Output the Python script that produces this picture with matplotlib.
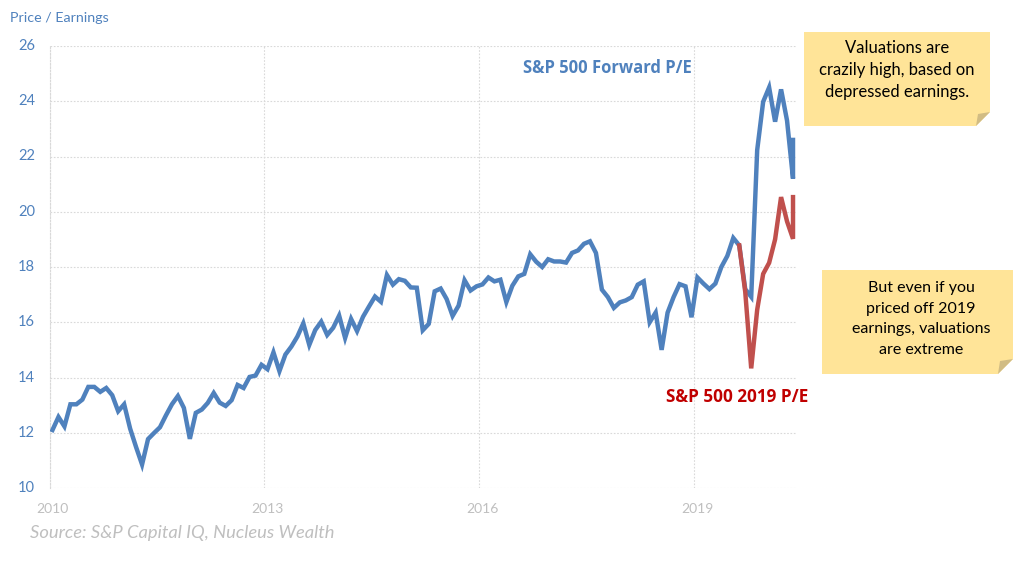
import numpy as np
from matplotlib import pyplot as plt
from matplotlib.patches import Polygon

plt.rcParams['font.family'] = ['Lato', 'DejaVu Sans']

# monthly from Jan 2010, last month has two readings
months = list(range(125)) + [124]

forward_pe = [12.1, 12.57, 12.23, 13.03, 13.03, 13.2, 13.66, 13.66, 13.48, 13.62, 13.36, 12.78,
              13.03, 12.15, 11.48, 10.85, 11.77, 11.99, 12.2, 12.63, 13.03, 13.33, 12.9, 11.78,
              12.72, 12.84, 13.08, 13.44, 13.09, 12.97, 13.18, 13.73, 13.62, 14.02, 14.07, 14.46,
              14.3, 14.91, 14.23, 14.83, 15.12, 15.48, 15.96, 15.18, 15.72, 16.02, 15.54, 15.8,
              16.24, 15.43, 16.12, 15.68, 16.2, 16.57, 16.93, 16.74, 17.71, 17.36, 17.56, 17.5,
              17.26, 17.25, 15.71, 15.94, 17.12, 17.22, 16.84, 16.23, 16.6, 17.52, 17.15, 17.3,
              17.37, 17.62, 17.48, 17.54, 16.73, 17.32, 17.66, 17.75, 18.46, 18.19, 18.0, 18.28,
              18.2, 18.2, 18.16, 18.51, 18.6, 18.84, 18.93, 18.51, 17.18, 16.91, 16.52, 16.72,
              16.79, 16.91, 17.36, 17.48, 16.0, 16.35, 15.0, 16.35, 16.91, 17.38, 17.3, 16.18,
              17.62, 17.4, 17.2, 17.4, 18.0, 18.4, 19.05, 18.78, 17.2, 16.92, 22.23, 23.98,
              24.5, 23.26, 24.43, 23.3, 21.2, 22.6]

months_2019 = list(range(115, 125)) + [124]
pe_2019 = [18.78, 17.1, 14.33, 16.45, 17.75, 18.15, 19.0, 20.53, 19.65, 19.02, 20.53]

year_labels = ['2010', '2013', '2016', '2019']
year_months = [0, 36, 72, 108]
y_ticks = [10, 12, 14, 16, 18, 20, 22, 24, 26]

blue = '#4F81BD'
red = '#C0504D'
dark_red = '#C00000'
grey = '#BFBFBF'
note_col = '#FFE498'
fold_col = '#D1BC84'

W, H = 1015, 561


def px(x, y):
    # figure fraction from pixel position, y measured from the top
    return x / W, 1 - y / H


def add_note(fig, x0, y0, x1, y1, fold):
    corner = [(x0, y0), (x1, y0), (x1, y1 - fold), (x1 - fold, y1), (x0, y1)]
    flap = [(x1 - fold, y1), (x1, y1 - fold), (x1 - fold + 2, y1 - fold + 2)]
    fig.add_artist(Polygon([px(*p) for p in corner], closed=True, transform=fig.transFigure,
                           facecolor=note_col, edgecolor='none'))
    fig.add_artist(Polygon([px(*p) for p in flap], closed=True, transform=fig.transFigure,
                           facecolor=fold_col, edgecolor='none'))


fig = plt.figure(figsize=(W / 100, H / 100), dpi=100)
ax = fig.add_axes([49.5 / W, 1 - 488 / H, (796 - 49.5) / W, (488 - 46) / H])

ax.plot(months, forward_pe, color=blue, lw=3.2, solid_joinstyle='miter', zorder=3)
ax.plot(months_2019, pe_2019, color=red, lw=3.2, solid_joinstyle='miter', zorder=4)

ax.set_xlim(-0.5, 124.5)
ax.set_ylim(10, 26)

# gridlines sit on the category edges, labels on the first month
ax.set_xticks([m - 0.5 for m in year_months])
ax.set_xticklabels([])
ax.set_xticks(year_months, minor=True)
ax.set_xticklabels(year_labels, minor=True, color=grey, fontsize=10)
ax.set_yticks(y_ticks)
ax.set_yticklabels(y_ticks, color=blue, fontsize=10.5, va='center')
ax.tick_params(which='both', length=0)
ax.tick_params(axis='x', which='minor', pad=11)
ax.tick_params(axis='y', pad=10.5)

ax.grid(True, color='#D9D9D9', lw=0.8, ls=(0, (1.5, 1.5)), zorder=0)
for s in ax.spines.values():
    s.set_visible(False)
ax.spines['left'].set_visible(True)
ax.spines['left'].set_color('#D9D9D9')
ax.spines['left'].set_linewidth(0.8)
ax.spines['left'].set_linestyle((0, (1.5, 1.5)))

fig.text(*px(10, 18.5), 'Price / Earnings', color=blue, fontsize=10.3, va='center')
fig.text(*px(30, 533), 'Source: S&P Capital IQ, Nucleus Wealth', color=grey, fontsize=13.2,
         style='italic', va='center')
fig.text(*px(523, 68), 'S&P 500 Forward P/E', color=blue, fontsize=12, fontweight='bold',
         family=['Open Sans', 'DejaVu Sans'], va='center')
fig.text(*px(666, 397), 'S&P 500 2019 P/E', color=dark_red, fontsize=12.3, fontweight='bold',
         family=['Open Sans', 'DejaVu Sans'], va='center')

add_note(fig, 804, 32, 990, 126, 14)
add_note(fig, 822, 270, 1013, 374, 15)

fig.text(*px(897, 70), 'Valuations are\ncrazily high, based on\ndepressed earnings.', color='black',
         fontsize=12, ha='center', va='center', ma='center', linespacing=1.45)
fig.text(*px(921, 319), 'But even if you\npriced off 2019\nearnings, valuations\nare extreme',
         color='black', fontsize=11.5, ha='center', va='center', ma='center', linespacing=1.6)

fig.savefig('out.png', dpi=100)
